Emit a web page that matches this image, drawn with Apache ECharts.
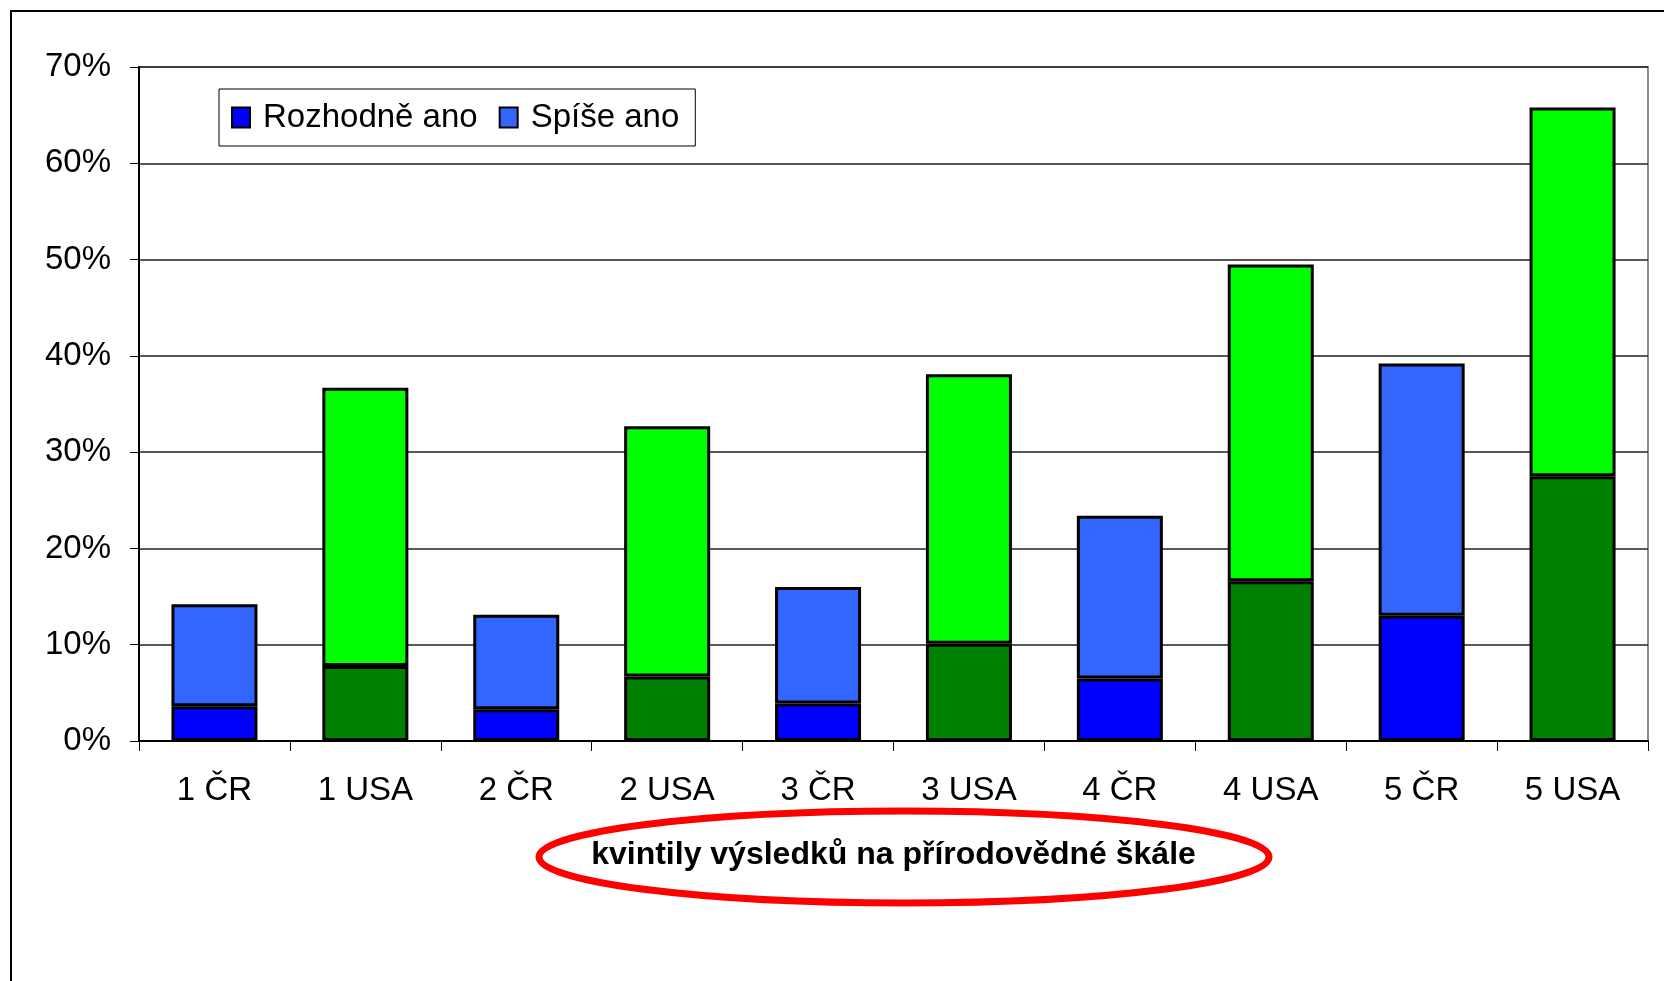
<!DOCTYPE html>
<html style="height: 100%">
<head>
    <meta charset="UTF-8">
    <title>kvintily výsledků</title>
</head>
<body style="height: 100%; margin: 0; background: #fff">
<div id="container" style="width: 1664px; height: 981px"></div>

<script type="text/javascript" src="https://cdn.jsdelivr.net/npm/echarts@6/dist/echarts.min.js"></script>
<script type="text/javascript">
    // data (percent)
    var categories = ['1 ČR', '1 USA', '2 ČR', '2 USA', '3 ČR', '3 USA', '4 ČR', '4 USA', '5 ČR', '5 USA'];
    var rozhodneAno = [3.6, 7.8, 3.3, 6.7, 3.9, 10.1, 6.5, 16.6, 13.0, 27.5];
    var spiseAno = [10.6, 28.9, 9.8, 26.0, 12.1, 28.0, 16.9, 32.9, 26.2, 38.3];
    var yTicks = [0, 10, 20, 30, 40, 50, 60, 70];

    var FONT = '"Liberation Sans", Arial, sans-serif';
    var dom = document.getElementById("container");
    var myChart = echarts.init(dom);

    // USA bars are drawn green, ČR bars blue
    function colored(values, crColor, usaColor) {
        return values.map(function (v, i) {
            var isUsa = categories[i].indexOf('USA') !== -1;
            return {value: v, itemStyle: {color: isUsa ? usaColor : crColor}};
        });
    }

    var option = {
        animation: false,
        backgroundColor: '#fff',
        textStyle: {fontFamily: FONT},
        grid: {
            left: 139, right: 16, top: 67, bottom: 240,
            show: true, borderColor: '#8c8c8c', borderWidth: 2, backgroundColor: 'transparent'
        },
        legend: {
            left: 219, top: 89,
            data: ['Rozhodně ano', 'Spíše ano'],
            icon: 'rect',
            itemWidth: 18, itemHeight: 20, itemGap: 21,
            padding: [12, 16, 12, 12],
            backgroundColor: '#fff',
            borderColor: '#000', borderWidth: 1,
            textStyle: {fontSize: 33, color: '#000', fontFamily: FONT, padding: [0, 0, 0, 8]},
            itemStyle: {borderColor: '#000', borderWidth: 2}
        },
        xAxis: {
            type: 'category',
            data: categories,
            axisLine: {lineStyle: {color: '#000', width: 2}},
            axisTick: {show: true, length: 10, interval: 0, lineStyle: {color: '#000'}},
            axisLabel: {fontSize: 33, color: '#000', margin: 33, fontFamily: FONT},
            name: 'kvintily výsledků na přírodovědné škále',
            nameLocation: 'middle',
            nameGap: 98,
            nameTextStyle: {fontSize: 32, fontWeight: 'bold', color: '#000', fontFamily: FONT}
        },
        yAxis: {
            type: 'value',
            min: 0, max: 70, interval: 10,
            axisLine: {show: true, lineStyle: {color: '#000', width: 2}},
            axisTick: {show: true, length: 9, lineStyle: {color: '#000'}},
            axisLabel: {
                fontSize: 33, color: '#000', margin: 28, fontFamily: FONT,
                formatter: function (v) { return yTicks.indexOf(v) !== -1 ? v + '%' : ''; }
            },
            splitLine: {show: true, lineStyle: {color: '#222', width: 1.5}}
        },
        series: [
            {
                name: 'Rozhodně ano',
                type: 'bar',
                stack: 'total',
                barWidth: '57%',
                color: '#0000ff',
                itemStyle: {borderColor: '#000', borderWidth: 3},
                data: colored(rozhodneAno, '#0000ff', '#008000')
            },
            {
                name: 'Spíše ano',
                type: 'bar',
                stack: 'total',
                barWidth: '57%',
                color: '#3366ff',
                itemStyle: {borderColor: '#000', borderWidth: 3},
                data: colored(spiseAno, '#3366ff', '#00ff00')
            }
        ],
        graphic: [
            {
                type: 'rect',
                z: -1,
                shape: {x: 11, y: 11, width: 1700, height: 1000},
                style: {fill: 'none', stroke: '#000', lineWidth: 2}
            },
            {
                type: 'ellipse',
                z: 100,
                shape: {cx: 904, cy: 857, rx: 365, ry: 46},
                style: {fill: 'none', stroke: '#ff0000', lineWidth: 7}
            }
        ]
    };

    myChart.setOption(option);
</script>
</body>
</html>
